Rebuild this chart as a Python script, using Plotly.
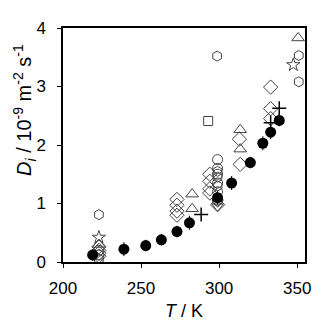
import plotly.graph_objects as go

# Filled circles (with small error bars)
t_filled = [219, 239, 253, 263, 273, 281, 299, 308, 320, 328, 333, 338.5]
d_filled = [0.12, 0.22, 0.28, 0.38, 0.52, 0.67, 1.10, 1.35, 1.70, 2.03, 2.22, 2.42]
err_filled = [0.1, 0.12, 0.1, 0.1, 0.1, 0.12, 0.12, 0.12, 0.1, 0.12, 0.12, 0.1]

# Open circles
t_circle = [223, 223, 299, 299, 299, 299, 299, 299]
d_circle = [0.12, 0.2, 1.75, 1.6, 1.5, 1.35, 1.2, 1.05]

# Hexagons
t_hex = [223, 223, 298.7, 351, 351, 299, 299, 299]
d_hex = [0.05, 0.81, 3.52, 3.53, 3.08, 1.55, 1.45, 1.3]

# Stars
t_star = [223, 347.5]
d_star = [0.42, 3.37]

# Triangles up
t_tri = [282.7, 282.7, 313.5, 313.5, 350.6, 223]
d_tri = [1.16, 0.91, 1.93, 2.26, 3.83, 0.3]

# Triangles down
t_tdown = [299, 299]
d_tdown = [0.95, 1.02]

# Squares
t_sq = [293]
d_sq = [2.41]

# Crosses
t_cross = [288.5, 333, 338.5]
d_cross = [0.81, 2.38, 2.63]

# Diamonds
t_dia = [223, 223, 223, 223, 273, 273, 273, 273, 294, 294, 294, 294, 299,
         313.5, 313, 333, 333, 333]
d_dia = [0.1, 0.15, 0.2, 0.26, 1.07, 0.97, 0.87, 0.8, 1.5, 1.38, 1.25, 1.18, 0.98,
         1.67, 2.1, 2.99, 2.62, 2.45]

fig = go.Figure()


def add_open(x, y, symbol, size=10):
    fig.add_trace(go.Scatter(
        x=x, y=y, mode="markers",
        marker=dict(symbol=symbol, size=size, color="#444444",
                    line=dict(color="#444444", width=1)),
        showlegend=False))


add_open(t_dia, d_dia, "diamond-open", 11)
add_open(t_circle, d_circle, "circle-open")
add_open(t_hex, d_hex, "hexagon-open")
add_open(t_star, d_star, "star-open", 10)
add_open(t_tri, d_tri, "triangle-up-open", 11)
add_open(t_tdown, d_tdown, "triangle-down-open", 10)
add_open(t_sq, d_sq, "square-open", 9)

fig.add_trace(go.Scatter(
    x=t_cross, y=d_cross, mode="markers",
    marker=dict(symbol="cross-thin", size=10, line=dict(color="black", width=1.5)),
    showlegend=False))

fig.add_trace(go.Scatter(
    x=t_filled, y=d_filled, mode="markers",
    marker=dict(symbol="circle", size=11, color="black"),
    error_y=dict(type="data", array=err_filled, color="black", thickness=1, width=0),
    showlegend=False))

tick_font = dict(family="Liberation Sans, Arial", size=17, color="black")
title_font = dict(family="Liberation Sans, Arial", size=18, color="black")

# y title drawn as an annotation so it can sit above the axis centre like the original
fig.add_annotation(
    text="<i>D</i><sub><i>i</i></sub> / 10<sup>-9</sup> m<sup>-2</sup> s<sup>-1</sup>",
    xref="paper", yref="paper", x=-0.157, y=0.65, textangle=-90,
    xanchor="center", yanchor="middle",
    showarrow=False, font=dict(family="Liberation Sans, Arial", size=20, color="black"))

# the page body adds 8px of offset, so margins are shifted
fig.update_layout(
    width=325, height=325,
    margin=dict(l=55, r=28, t=11, b=71),
    plot_bgcolor="white", paper_bgcolor="white",
    font=tick_font,
    xaxis=dict(range=[200, 355], tickvals=[200, 250, 300, 350],
               showline=True, linecolor="black", linewidth=1.5, mirror=True,
               ticks="outside", ticklen=4, tickcolor="black", showgrid=False,
               zeroline=False, tickfont=tick_font, ticklabelstandoff=6,
               title=dict(text="<i>T</i> / K", font=title_font, standoff=7)),
    yaxis=dict(range=[0, 4], tickvals=[0, 1, 2, 3, 4],
               showline=True, linecolor="black", linewidth=1.5, mirror=True,
               ticks="outside", ticklen=4, tickcolor="black", showgrid=False,
               zeroline=False, tickfont=tick_font, ticklabelstandoff=8),
)

fig.write_html("out.html")
